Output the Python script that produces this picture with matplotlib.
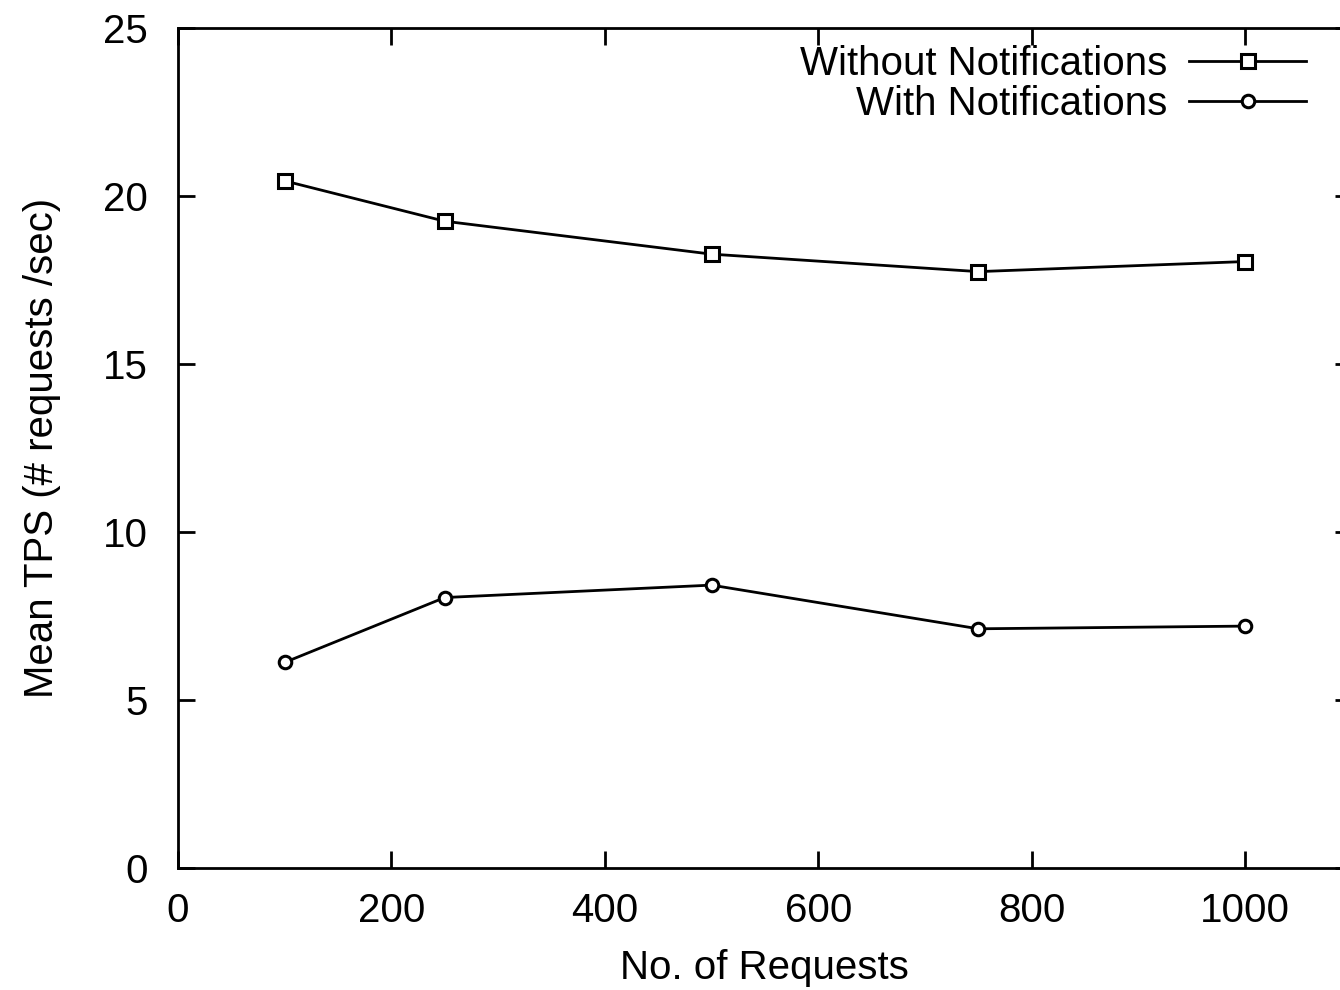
import matplotlib
matplotlib.use("Agg")
import matplotlib.pyplot as plt

requests = [100, 250, 500, 750, 1000]
without_notif = [20.45, 19.25, 18.27, 17.75, 18.05]
with_notif = [6.12, 8.05, 8.42, 7.12, 7.2]

xticks = [0, 200, 400, 600, 800, 1000]
yticks = [0, 5, 10, 15, 20, 25]

plt.rcParams['font.family'] = ['Liberation Sans', 'DejaVu Sans']

fig = plt.figure(figsize=(13.4, 9.9), dpi=100)
ax = fig.add_axes([0.1328, 0.1232, 0.876, 0.8485])

ax.plot(requests, without_notif, color='black', lw=2, marker='s', ms=10,
        mfc='white', mec='black', mew=2.2, label='Without Notifications')
ax.plot(requests, with_notif, color='black', lw=2, marker='o', ms=9,
        mfc='white', mec='black', mew=2.2, label='With Notifications')

ax.set_xlim(0, 1100)
ax.set_ylim(0, 25)
ax.set_xticks(xticks)
ax.set_yticks(yticks)
ax.tick_params(direction='in', length=12, width=2, top=True, right=True,
               labelsize=29)
ax.tick_params(axis='x', pad=17)
ax.tick_params(axis='y', pad=22)
for s in ax.spines.values():
    s.set_linewidth(2)

ax.set_xlabel('No. of Requests', fontsize=29, labelpad=14)
ax.set_ylabel('Mean TPS (# requests /sec)', fontsize=29, labelpad=30)

ax.legend(loc='upper right', frameon=False, markerfirst=False, fontsize=29,
          handlelength=2.9, handletextpad=0.55, labelspacing=0.05,
          borderpad=0, borderaxespad=0, bbox_to_anchor=(0.961, 0.98))

fig.savefig('out.png', dpi=100)
